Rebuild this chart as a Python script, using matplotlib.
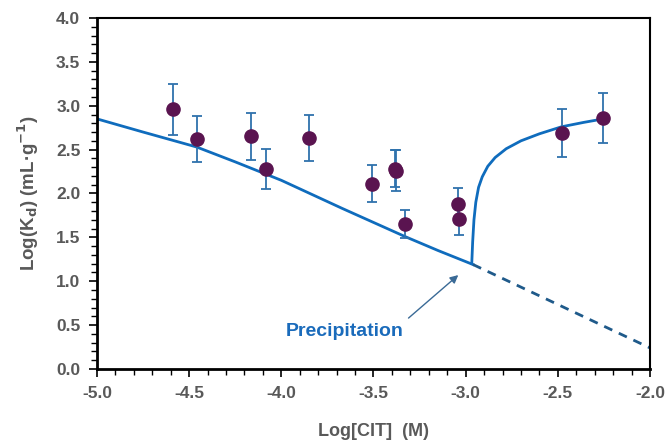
import matplotlib
matplotlib.use("Agg")
import matplotlib.pyplot as plt
from matplotlib.ticker import MultipleLocator

plt.rcParams['font.family'] = ['Liberation Sans', 'DejaVu Sans']
plt.rcParams['mathtext.default'] = 'bf'

# Experimental data
log_cit = [-4.586, -4.459, -4.164, -4.085, -3.850, -3.509, -3.379, -3.383, -3.329, -3.043, -3.034, -2.479, -2.253]
log_kd = [2.96, 2.62, 2.65, 2.28, 2.63, 2.11, 2.26, 2.28, 1.65, 1.88, 1.71, 2.69, 2.86]
kd_err = [0.29, 0.26, 0.27, 0.23, 0.26, 0.21, 0.23, 0.21, 0.16, 0.18, 0.18, 0.27, 0.28]

# Model curve without precipitation (solid part)
model_x = [-5.0, -4.75, -4.46, -4.25, -4.0, -3.67, -3.33, -3.15, -2.96]
model_y = [2.85, 2.70, 2.53, 2.36, 2.15, 1.83, 1.51, 1.35, 1.19]

# Extrapolated model (dashed part)
dash_x = [-2.96, -2.0]
dash_y = [1.19, 0.24]

# Model with precipitation
precip_x = [-2.967, -2.962, -2.955, -2.945, -2.930, -2.910, -2.880, -2.840, -2.780, -2.700, -2.600, -2.480, -2.360, -2.253]
precip_y = [1.20, 1.45, 1.70, 1.90, 2.07, 2.19, 2.31, 2.41, 2.51, 2.60, 2.68, 2.76, 2.81, 2.85]

fig = plt.figure(figsize=(6.66, 4.44), dpi=100)
ax = fig.add_axes([0.1456, 0.169, 0.8304, 0.7905])

line_col = '#0f6cbd'
ax.plot(model_x, model_y, color=line_col, lw=2.0, zorder=2)
ax.plot(dash_x, dash_y, color='#1f5a8a', lw=2.0, ls=(0, (3.2, 2.6)), zorder=2)
ax.plot(precip_x, precip_y, color=line_col, lw=2.0, zorder=2)

ax.errorbar(log_cit, log_kd, yerr=kd_err, fmt='o', color='#5a1450', markersize=9.5,
            ecolor='#2f72ad', elinewidth=1.3, capsize=3.5, capthick=1.3, zorder=3)

ax.text(-3.655, 0.43, 'Precipitation', ha='center', va='center', color='#1a6bbb',
        fontsize=14, fontweight='bold')
ax.annotate('', xy=(-3.04, 1.07), xytext=(-3.31, 0.58),
            arrowprops=dict(arrowstyle='-|>', color='#3a6a96', lw=1.0, mutation_scale=12,
                            shrinkA=0, shrinkB=0))

ax.set_xlim(-5.0, -2.0)
ax.set_ylim(0.0, 4.0)
ax.xaxis.set_major_locator(MultipleLocator(0.5))
ax.xaxis.set_minor_locator(MultipleLocator(0.1))
ax.yaxis.set_major_locator(MultipleLocator(0.5))
ax.yaxis.set_minor_locator(MultipleLocator(0.1))
ax.xaxis.set_major_formatter(plt.FuncFormatter(lambda v, p: f"{v:.1f}"))
ax.yaxis.set_major_formatter(plt.FuncFormatter(lambda v, p: f"{v:.1f}"))

grey = '#595959'
ax.tick_params(which='both', direction='out', colors='black', labelcolor=grey)
ax.tick_params(which='major', length=6, width=1.2, labelsize=12.5, pad=6)
ax.tick_params(which='minor', length=4, width=1.0)
for lab in ax.get_xticklabels() + ax.get_yticklabels():
    lab.set_fontweight('bold')

for s in ['left', 'bottom']:
    ax.spines[s].set_linewidth(2.0)
for s in ['top', 'right']:
    ax.spines[s].set_linewidth(1.5)

ax.set_xlabel('Log[CIT]  (M)', fontsize=13, fontweight='bold', color=grey, labelpad=16)
ax.set_ylabel(r'Log(K$_{d}$) (mL·g$^{-1}$)', fontsize=13.5, fontweight='bold', color=grey, labelpad=11)

fig.savefig('out.png', dpi=100)
